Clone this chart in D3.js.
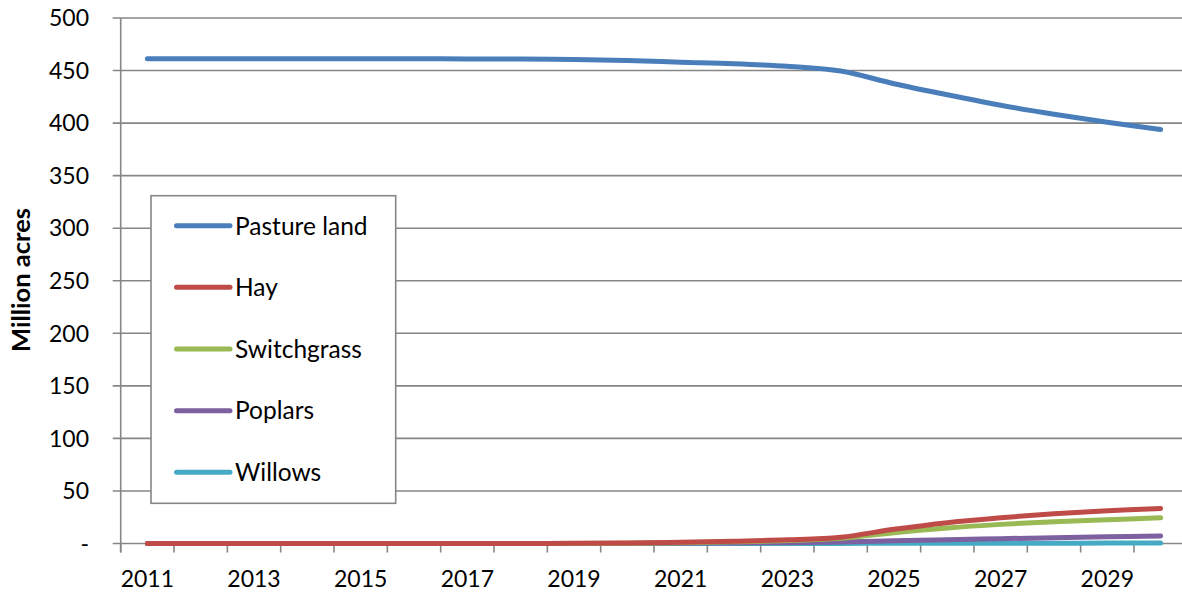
<!DOCTYPE html>
<html><head><meta charset="utf-8">
<script src="https://cdn.jsdelivr.net/npm/d3@7"></script>
<style>
html,body{margin:0;padding:0;background:#fff;}
svg{display:block;}
text{font-family:Lato,"Open Sans",sans-serif;fill:#000;}
</style></head>
<body>
<svg id="chart" width="1182" height="594"></svg>
<script>
const years = [2011,2012,2013,2014,2015,2016,2017,2018,2019,2020,2021,2022,2023,2024,2025,2026,2027,2028,2029,2030];
const pasture = [461.3,461.3,461.3,461.3,461.3,461.2,461.1,461,460.4,459.6,458,456.5,454,449.5,437.5,427,417,408.5,400.8,394];
const hay = [0,0,0,0,0,0,0,0,0.2,0.5,1.2,2.2,3.5,6,13.5,19.8,24.5,28.3,31.2,33.3];
const switchgrass = [0,0,0,0,0,0,0,0,0.1,0.3,0.8,1.6,2.8,5,10.3,14.8,18.2,20.8,22.7,24.4];
const poplars = [0,0,0,0,0,0,0,0,0,0.1,0.3,0.5,0.8,1.5,2.6,3.6,4.6,5.5,6.4,7.1];
const willows = [0,0,0,0,0,0,0,0,0,0,0,0,0.1,0.1,0.2,0.2,0.3,0.3,0.4,0.4];
const seriesNames = ["Pasture land","Hay","Switchgrass","Poplars","Willows"];
const seriesColors = ["#4A7EBB","#BE4B48","#98B954","#7D60A0","#46AAC5"];
const yTicks = [0,50,100,150,200,250,300,350,400,450,500];
const xTickLabels = ["2011","2013","2015","2017","2019","2021","2023","2025","2027","2029"];
const yTitle = "Million acres";

const allSeries = [pasture, hay, switchgrass, poplars, willows];

const svg = d3.select("#chart");
const pLeft = 120.7, pRight = 1187.3, pTop = 18, pBottom = 543.5;
const gridColor = "#868686";

const x = d3.scaleBand().domain(years).range([pLeft, pRight]).paddingInner(0).paddingOuter(0);
const y = d3.scaleLinear().domain([0, 500]).range([pBottom, pTop]);

// gridlines
svg.append("g").selectAll("line").data(yTicks).join("line")
  .attr("x1", pLeft - 8).attr("x2", 1182)
  .attr("y1", d => y(d)).attr("y2", d => y(d))
  .attr("stroke", gridColor).attr("stroke-width", 1.6);

// y axis line
svg.append("line").attr("x1", pLeft).attr("x2", pLeft).attr("y1", pTop).attr("y2", pBottom + 9)
  .attr("stroke", gridColor).attr("stroke-width", 1.6);

// x ticks at band boundaries
const bounds = years.map(d => x(d)).concat([pRight]);
svg.append("g").selectAll("line").data(bounds).join("line")
  .attr("x1", d => d).attr("x2", d => d)
  .attr("y1", pBottom).attr("y2", pBottom + 9)
  .attr("stroke", gridColor).attr("stroke-width", 1.6);

// y labels
svg.append("g").selectAll("text").data(yTicks).join("text")
  .attr("x", 89).attr("y", d => y(d)).attr("dy", "0.36em")
  .attr("text-anchor", "end").attr("font-size", 23)
  .text(d => d === 0 ? "-" : d);

// x labels
svg.append("g").selectAll("text").data(xTickLabels).join("text")
  .attr("x", d => x(+d) + x.bandwidth() / 2).attr("y", 587)
  .attr("text-anchor", "middle").attr("font-size", 23)
  .text(d => d);

// y title
svg.append("text").attr("transform", "translate(30,280) rotate(-90)")
  .attr("text-anchor", "middle").attr("font-size", 25.5).attr("font-weight", "bold")
  .text(yTitle);

// lines
const line = d3.line()
  .x((d, i) => x(years[i]) + x.bandwidth() / 2)
  .y(d => y(d))
  .curve(d3.curveCatmullRom.alpha(0.5));

const order = [4,3,2,1,0];
svg.append("g").selectAll("path").data(order).join("path")
  .attr("d", i => line(allSeries[i]))
  .attr("fill", "none")
  .attr("stroke", i => seriesColors[i])
  .attr("stroke-width", 5)
  .attr("stroke-linecap", "round")
  .attr("stroke-linejoin", "round");

// legend
const lg = svg.append("g");
lg.append("rect").attr("x", 151).attr("y", 195.7).attr("width", 244.7).attr("height", 307.6)
  .attr("fill", "#fff").attr("stroke", gridColor).attr("stroke-width", 1.6);
const items = lg.selectAll("g").data(seriesNames).join("g")
  .attr("transform", (d, i) => `translate(0,${225.7 + i * 61.65})`);
items.append("line").attr("x1", 176.5).attr("x2", 230).attr("y1", 0).attr("y2", 0)
  .attr("stroke", (d, i) => seriesColors[i]).attr("stroke-width", 5).attr("stroke-linecap", "round");
items.append("text").attr("x", 235).attr("y", 0).attr("dy", "0.36em")
  .attr("font-size", 24.5).text(d => d);
</script>
</body></html>
